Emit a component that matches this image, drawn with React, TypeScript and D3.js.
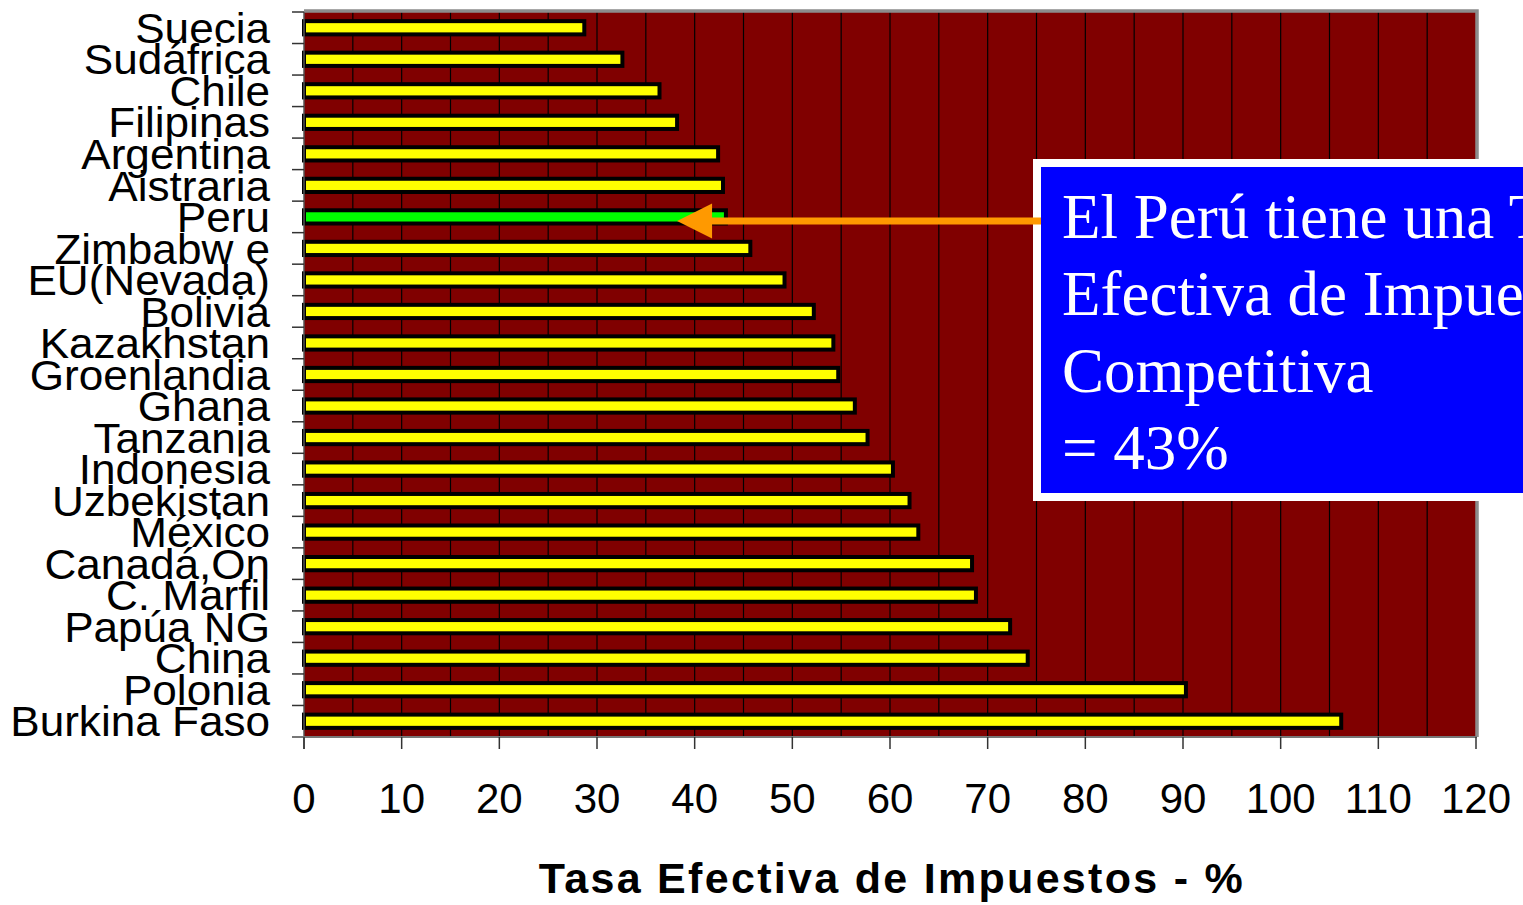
import React, { useEffect, useRef } from 'react';
import * as d3 from 'd3';

// countries from top to bottom, as they appear in the chart
const countries = [
  'Suecia', 'Sudáfrica', 'Chile', 'Filipinas', 'Argentina', 'Aistraria', 'Peru',
  'Zimbabw e', 'EU(Nevada)', 'Bolivia', 'Kazakhstan', 'Groenlandia', 'Ghana',
  'Tanzania', 'Indonesia', 'Uzbekistan', 'México', 'Canadá,On', 'C. Marfil',
  'Papúa NG', 'China', 'Polonia', 'Burkina Faso',
];
const tasas = [
  28.7, 32.6, 36.4, 38.2, 42.4, 42.9, 43.2,
  45.7, 49.2, 52.2, 54.2, 54.7, 56.4,
  57.7, 60.3, 62.0, 62.9, 68.4, 68.8,
  72.3, 74.1, 90.3, 106.2,
];
const xTicks = [0, 10, 20, 30, 40, 50, 60, 70, 80, 90, 100, 110, 120];
const gridValues = d3.range(5, 120, 5);
const highlighted = 'Peru';
const axisTitle = 'Tasa Efectiva de Impuestos - %';
const noteLines = ['El Perú tiene una Tasa', 'Efectiva de Impuestos', 'Competitiva', '= 43%'];
const arrowValue = 38.2;

const W = 1523;
const H = 905;
const plot = { left: 304, right: 1476, top: 12, bottom: 737 };

export default function App() {
  const ref = useRef<SVGSVGElement | null>(null);

  useEffect(() => {
    const svg = d3.select(ref.current);
    svg.selectAll('*').remove();

    const x = d3.scaleLinear().domain([0, 120]).range([plot.left, plot.right]);
    const y = d3.scaleBand<string>()
      .domain(countries)
      .range([plot.top, plot.bottom])
      .paddingInner(0.58)
      .paddingOuter(0.29);
    const step = y.step();

    // plot background
    svg.append('rect')
      .attr('x', plot.left).attr('y', plot.top)
      .attr('width', plot.right - plot.left).attr('height', plot.bottom - plot.top)
      .attr('fill', '#800000');

    // vertical gridlines every 5
    svg.append('g').selectAll('line')
      .data(gridValues)
      .enter().append('line')
      .attr('x1', d => x(d)).attr('x2', d => x(d))
      .attr('y1', plot.top).attr('y2', plot.bottom)
      .attr('stroke', '#000').attr('stroke-width', 1.2);

    // top and right frame (gray)
    svg.append('path')
      .attr('d', `M${plot.left},${plot.top - 1}H${plot.right + 1}V${plot.bottom}`)
      .attr('fill', 'none').attr('stroke', '#8c8c8c').attr('stroke-width', 3.5);

    // bars
    svg.append('g').selectAll('rect')
      .data(countries)
      .enter().append('rect')
      .attr('x', x(0))
      .attr('y', d => y(d)!)
      .attr('width', (d, i) => x(tasas[i]) - x(0))
      .attr('height', y.bandwidth())
      .attr('fill', d => d === highlighted ? '#00ff00' : '#ffff00')
      .attr('stroke', '#000').attr('stroke-width', 4);

    // left axis
    const yAxis = svg.append('g');
    yAxis.append('line')
      .attr('x1', plot.left).attr('x2', plot.left)
      .attr('y1', plot.top).attr('y2', plot.bottom + 12)
      .attr('stroke', '#555').attr('stroke-width', 1.5);
    yAxis.selectAll('line.tick')
      .data(d3.range(countries.length + 1))
      .enter().append('line')
      .attr('class', 'tick')
      .attr('x1', plot.left - 12).attr('x2', plot.left)
      .attr('y1', i => plot.top + i * step).attr('y2', i => plot.top + i * step)
      .attr('stroke', '#333').attr('stroke-width', 1.5);
    yAxis.selectAll('text')
      .data(countries)
      .enter().append('text')
      .attr('transform', d => `translate(270,${y(d)! + y.bandwidth() / 2}) scale(1.05,1)`)
      .attr('dy', '0.36em')
      .attr('text-anchor', 'end')
      .attr('font-family', 'Liberation Sans, Arial, sans-serif')
      .attr('font-size', 42)
      .attr('fill', '#000')
      .text(d => d);

    // bottom axis
    const xAxis = svg.append('g');
    xAxis.append('line')
      .attr('x1', plot.left - 12).attr('x2', plot.right + 1)
      .attr('y1', plot.bottom).attr('y2', plot.bottom)
      .attr('stroke', '#777').attr('stroke-width', 2);
    xAxis.selectAll('line.tick')
      .data(xTicks)
      .enter().append('line')
      .attr('class', 'tick')
      .attr('x1', d => x(d)).attr('x2', d => x(d))
      .attr('y1', plot.bottom).attr('y2', plot.bottom + 12)
      .attr('stroke', '#333').attr('stroke-width', 1.5);
    xAxis.selectAll('text')
      .data(xTicks)
      .enter().append('text')
      .attr('x', d => x(d))
      .attr('y', 813)
      .attr('text-anchor', 'middle')
      .attr('font-family', 'Liberation Sans, Arial, sans-serif')
      .attr('font-size', 42)
      .attr('fill', '#000')
      .text(d => d);

    svg.append('text')
      .attr('x', 892).attr('y', 893)
      .attr('text-anchor', 'middle')
      .attr('font-family', 'Liberation Sans, Arial, sans-serif')
      .attr('font-weight', 'bold')
      .attr('font-size', 43)
      .attr('letter-spacing', 2.3)
      .attr('fill', '#000')
      .text(axisTitle);

    // annotation box
    const box = svg.append('g');
    box.append('rect')
      .attr('x', 1033).attr('y', 159).attr('width', 600).attr('height', 342)
      .attr('fill', '#fff');
    box.append('rect')
      .attr('x', 1041).attr('y', 167).attr('width', 600).attr('height', 326)
      .attr('fill', '#0000ff');
    box.selectAll('text')
      .data(noteLines)
      .enter().append('text')
      .attr('x', 1062)
      .attr('y', (d, i) => 238 + i * 77)
      .attr('font-family', 'Liberation Serif, Times New Roman, serif')
      .attr('font-size', 63)
      .attr('fill', '#fff')
      .text(d => d);

    // arrow pointing to Peru
    const ay = y(highlighted)! + y.bandwidth() / 2 + 4;
    const tip = x(arrowValue);
    svg.append('line')
      .attr('x1', 1041).attr('x2', tip + 33)
      .attr('y1', ay).attr('y2', ay)
      .attr('stroke', '#ff9900').attr('stroke-width', 7);
    svg.append('path')
      .attr('d', `M${tip},${ay}L${tip + 35},${ay - 17.5}L${tip + 35},${ay + 17.5}Z`)
      .attr('fill', '#ff9900');
  }, []);

  return (
    <svg
      ref={ref}
      width={W}
      height={H}
      style={{ position: 'absolute', left: 0, top: 0, background: '#fff' }}
    />
  );
}
